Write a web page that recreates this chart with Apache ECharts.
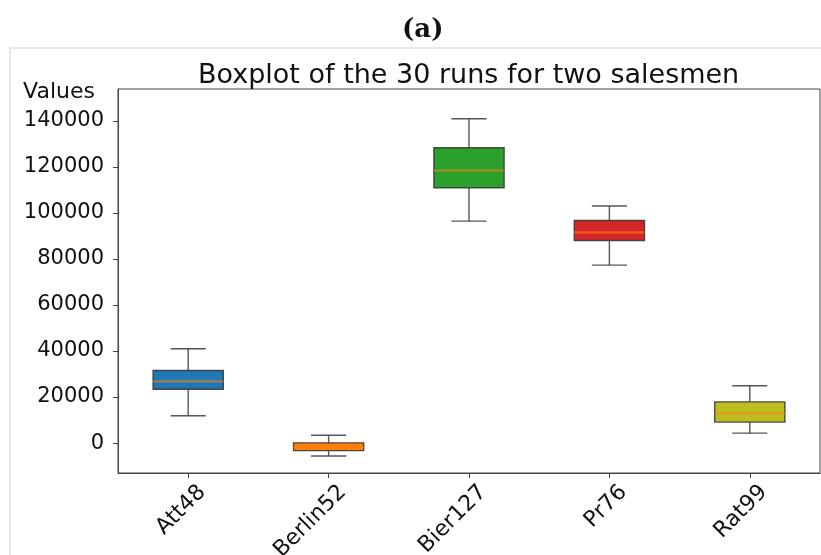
<!DOCTYPE html>
<html>
<head>
<meta charset="utf-8">
<script src="https://cdn.jsdelivr.net/npm/echarts@6/dist/echarts.min.js"></script>
<style>
html,body{margin:0;padding:0;background:#fff;}
#chart{width:821px;height:555px;}
</style>
</head>
<body>
<div id="chart"></div>
<script>
const categories = ['Att48', 'Berlin52', 'Bier127', 'Pr76', 'Rat99'];
const lows    = [11900, -5600,  96400, 77300,  4300];
const q1s     = [23400, -3300, 110900, 88000,  9100];
const medians = [26800, -1700, 118400, 91500, 12900];
const q3s     = [31500,   100, 128300, 96700, 17900];
const highs   = [41000,  3400, 140900, 103000, 24900];
const yTicks  = [0, 20000, 40000, 60000, 80000, 100000, 120000, 140000];
const boxColors = ['#1f77b4', '#ff7f0e', '#2ca02c', '#d62728', '#bcbd22'];

const FONT = 'DejaVu Sans';
const chart = echarts.init(document.getElementById('chart'), null, {renderer: 'canvas'});

const seriesData = categories.map((c, i) => [i, lows[i], q1s[i], medians[i], q3s[i], highs[i]]);

function renderBox(params, api) {
  const idx = api.value(0);
  const band = api.size([1, 0])[0];
  const half = band * 0.25;
  const capHalf = band * 0.125;
  const pLow = api.coord([idx, api.value(1)]);
  const pQ1 = api.coord([idx, api.value(2)]);
  const pMed = api.coord([idx, api.value(3)]);
  const pQ3 = api.coord([idx, api.value(4)]);
  const pHigh = api.coord([idx, api.value(5)]);
  const x = pQ1[0];
  const lineStyle = {stroke: '#3a3a3a', lineWidth: 1.4, opacity: 0.85};
  return {
    type: 'group',
    children: [
      {type: 'line', shape: {x1: x, y1: pLow[1], x2: x, y2: pQ1[1]}, style: lineStyle},
      {type: 'line', shape: {x1: x, y1: pQ3[1], x2: x, y2: pHigh[1]}, style: lineStyle},
      {type: 'line', shape: {x1: x - capHalf, y1: pLow[1], x2: x + capHalf, y2: pLow[1]}, style: lineStyle},
      {type: 'line', shape: {x1: x - capHalf, y1: pHigh[1], x2: x + capHalf, y2: pHigh[1]}, style: lineStyle},
      {type: 'rect', shape: {x: x - half, y: pQ3[1], width: half * 2, height: pQ1[1] - pQ3[1]},
        style: {fill: boxColors[params.dataIndex], stroke: '#333', lineWidth: 1.4, strokeOpacity: 0.85}},
      {type: 'line', shape: {x1: x - half, y1: pMed[1], x2: x + half, y2: pMed[1]},
        style: {stroke: '#ff7f0e', lineWidth: 2.2, opacity: 0.6}}
    ]
  };
}

chart.setOption({
  animation: false,
  backgroundColor: '#ffffff',
  graphic: [
    {type: 'line', shape: {x1: 10, y1: 48, x2: 821, y2: 48}, style: {stroke: '#e6e6e6', lineWidth: 2}, silent: true},
    {type: 'line', shape: {x1: 10, y1: 47, x2: 10, y2: 555}, style: {stroke: '#e6e6e6', lineWidth: 2}, silent: true}
  ],
  title: [
    {text: '(a)', left: 397, top: 12,
      textStyle: {fontFamily: 'DejaVu Serif', fontWeight: 'bold', fontSize: 26, color: '#111'}},
    {text: 'Boxplot of the 30 runs for two salesmen', left: 193, top: 57,
      textStyle: {fontFamily: FONT, fontWeight: 'normal', fontSize: 27, color: '#111'}}
  ],
  grid: {left: 118, top: 89, right: 1, bottom: 82, outerBoundsMode: 'none', containLabel: false,
    show: true, borderColor: '#444', borderWidth: 1, backgroundColor: 'transparent'},
  xAxis: {
    type: 'category',
    data: categories,
    boundaryGap: true,
    axisLine: {show: true, onZero: false, lineStyle: {color: '#444', width: 1}},
    axisTick: {show: true, alignWithLabel: true, length: 5, lineStyle: {color: '#444'}},
    axisLabel: {rotate: 45, margin: 30, padding: [0, -20, 0, 0], fontFamily: FONT, fontSize: 22, color: '#111'},
    splitLine: {show: false}
  },
  yAxis: {
    type: 'value',
    min: -13000,
    max: 153800,
    name: 'Values',
    nameLocation: 'end',
    nameGap: -3,
    nameTextStyle: {fontFamily: FONT, fontSize: 22, color: '#111', align: 'right', verticalAlign: 'middle', padding: [0, 23, 0, 0]},
    axisLine: {show: true, onZero: false, lineStyle: {color: '#444', width: 1}},
    axisTick: {show: true, length: 5, lineStyle: {color: '#444'}, customValues: yTicks},
    axisLabel: {margin: 14, fontFamily: FONT, fontSize: 21, color: '#111', customValues: yTicks, formatter: v => String(v)},
    splitLine: {show: false}
  },
  series: [{
    type: 'custom',
    renderItem: renderBox,
    encode: {x: 0, y: [1, 2, 3, 4, 5]},
    data: seriesData
  }]
});
</script>
</body>
</html>
